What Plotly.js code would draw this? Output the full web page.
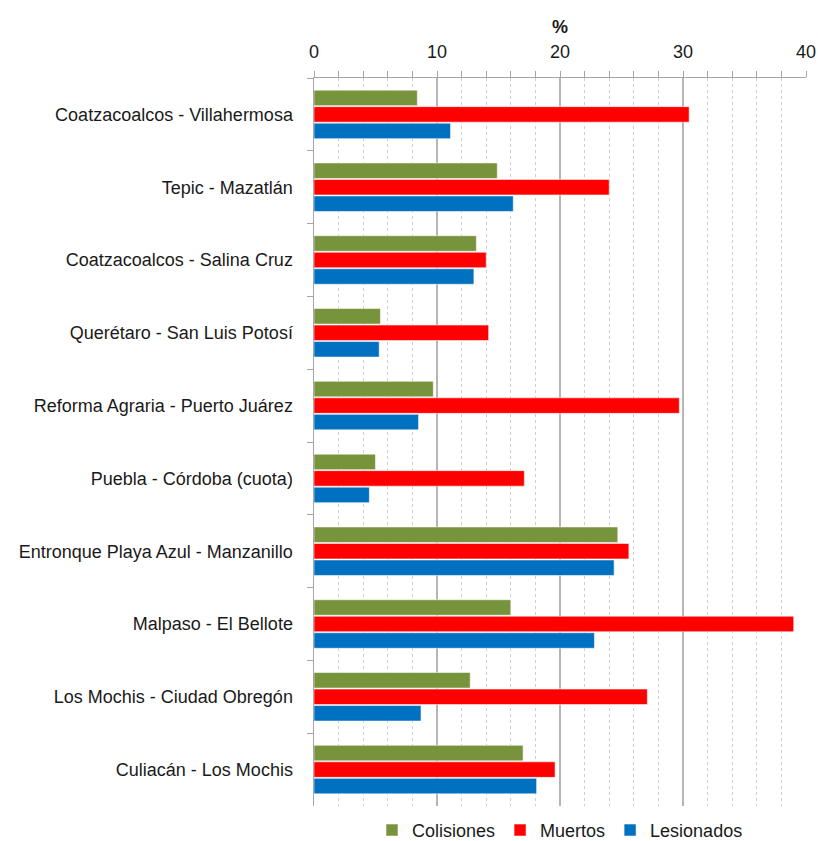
<!DOCTYPE html>
<html>
<head>
<meta charset="utf-8">
<script src="https://cdn.plot.ly/plotly-3.0.1.min.js"></script>
<style>
  html, body { margin: 0; padding: 0; background: #ffffff; }
  #chart { width: 818px; height: 841px; }
</style>
</head>
<body>
<div id="chart"></div>
<script>
// Road sections, listed top to bottom
const tramos = [
  "Coatzacoalcos - Villahermosa",
  "Tepic - Mazatlán",
  "Coatzacoalcos - Salina Cruz",
  "Querétaro - San Luis Potosí",
  "Reforma Agraria - Puerto Juárez",
  "Puebla - Córdoba (cuota)",
  "Entronque Playa Azul - Manzanillo",
  "Malpaso - El Bellote",
  "Los Mochis - Ciudad Obregón",
  "Culiacán - Los Mochis"
];

// Share (%) per section
const colisiones = [8.4, 14.9, 13.2, 5.4, 9.7, 5.0, 24.7, 16.0, 12.7, 17.0];
const muertos    = [30.5, 24.0, 14.0, 14.2, 29.7, 17.1, 25.6, 39.0, 27.1, 19.6];
const lesionados = [11.1, 16.2, 13.0, 5.3, 8.5, 4.5, 24.4, 22.8, 8.7, 18.1];

const xTicks = [0, 10, 20, 30, 40];

const FONT = "Liberation Sans, Arial, sans-serif";

function serie(name, values, color) {
  return {
    type: "bar",
    orientation: "h",
    name: name,
    y: tramos,
    x: values,
    marker: { color: color, line: { color: "rgba(255,255,255,0.55)", width: 1 } },
    hoverinfo: "x+y+name"
  };
}

const data = [
  serie("Colisiones", colisiones, "#77933c"),
  serie("Muertos", muertos, "#ff0000"),
  serie("Lesionados", lesionados, "#0070c0")
];

const layout = {
  width: 818,
  height: 841,
  margin: { l: 314, r: 12, t: 78, b: 35, autoexpand: false },
  paper_bgcolor: "#ffffff",
  plot_bgcolor: "#ffffff",
  font: { family: FONT, size: 18, color: "#1a1a1a" },
  barmode: "group",
  bargap: 0.32,
  bargroupgap: 0.06,
  showlegend: true,
  legend: {
    orientation: "h",
    x: 0.5, xanchor: "center",
    y: -0.008, yanchor: "top",
    font: { family: FONT, size: 18, color: "#1a1a1a" },
    traceorder: "normal",
    itemwidth: 30
  },
  xaxis: {
    side: "top",
    range: [0, 40],
    tickvals: xTicks,
    ticktext: xTicks.map(String),
    ticks: "outside",
    ticklen: 6,
    tickcolor: "#a6a6a6",
    ticklabelstandoff: 5,
    showline: true,
    linecolor: "#a6a6a6",
    linewidth: 1.5,
    showgrid: true,
    gridcolor: "#b5b5b5",
    gridwidth: 1.5,
    zeroline: false,
    tickfont: { family: FONT, size: 18, color: "#1a1a1a" },
    minor: {
      dtick: 2,
      tick0: 0,
      ticks: "outside",
      ticklen: 6,
      tickcolor: "#a6a6a6",
      showgrid: true,
      gridcolor: "#cfcfcf",
      griddash: "dot",
      gridwidth: 1
    },
    title: {
      text: "<b>%</b>",
      font: { family: FONT, size: 18, color: "#1a1a1a" },
      standoff: 4
    },
    fixedrange: true
  },
  yaxis: {
    type: "category",
    categoryorder: "array",
    categoryarray: tramos,
    autorange: "reversed",
    tickson: "boundaries",
    ticks: "outside",
    ticklen: 6,
    tickcolor: "#a6a6a6",
    ticklabelstandoff: 16,
    showline: true,
    linecolor: "#a6a6a6",
    linewidth: 1.5,
    showgrid: false,
    zeroline: false,
    tickfont: { family: FONT, size: 18, color: "#1a1a1a" },
    fixedrange: true
  }
};

Plotly.newPlot("chart", data, layout, { displayModeBar: false, staticPlot: true });
</script>
</body>
</html>
